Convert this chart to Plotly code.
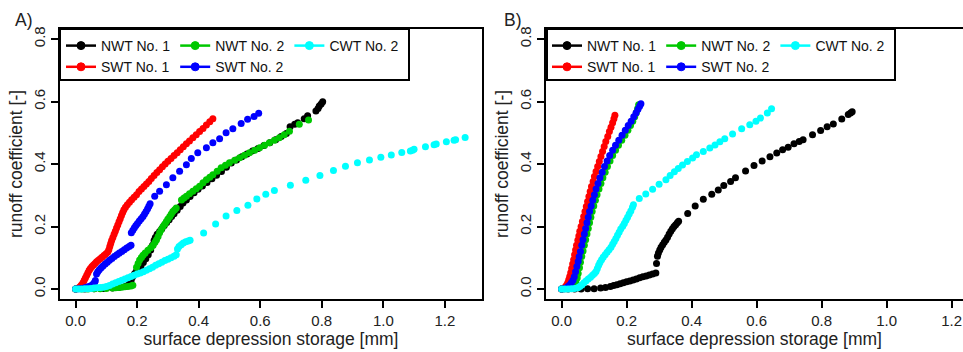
import plotly.graph_objects as go

# ---------------- data ----------------
series_names = ["NWT No. 1", "SWT No. 1", "NWT No. 2", "SWT No. 2", "CWT No. 2"]
series_colors = ["#000000", "#FF0000", "#00C800", "#0000FF", "#00FFFF"]
series_groups = ["c1", "c1", "c2", "c2", "c3"]

x_ticks = [0.0, 0.2, 0.4, 0.6, 0.8, 1.0, 1.2]
y_ticks = [0.0, 0.2, 0.4, 0.6, 0.8]

# ---- Panel A ----
a_nwt1_x = [0.0, 0.03, 0.06, 0.09, 0.12, 0.14, 0.16, 0.17, 0.176, 0.181, 0.186, 0.192, 0.198, 0.205, 0.212,
            0.220, 0.228, 0.236, 0.244, 0.250, 0.255, 0.259, 0.265, 0.273, 0.280, 0.288, 0.296, 0.304, 0.312,
            0.320, 0.330, 0.340, 0.349, 0.360, 0.372, 0.385, 0.398, 0.412, 0.427, 0.443, 0.458, 0.474, 0.490,
            0.506, 0.523, 0.540, 0.557, 0.575, 0.593, 0.612, 0.631, 0.650, 0.668, 0.685, 0.697, 0.712, 0.722,
            0.743, 0.754, 0.781, 0.788, 0.792, 0.798, 0.803]
a_nwt1_y = [0.0, 0.0, 0.001, 0.002, 0.003, 0.005, 0.008, 0.012, 0.020, 0.030, 0.040, 0.050, 0.058, 0.066, 0.072,
            0.085, 0.097, 0.110, 0.125, 0.140, 0.155, 0.165, 0.175, 0.184, 0.193, 0.203, 0.213, 0.222, 0.232,
            0.241, 0.252, 0.264, 0.275, 0.285, 0.296, 0.308, 0.319, 0.330, 0.341, 0.353, 0.364, 0.376, 0.390,
            0.403, 0.413, 0.423, 0.432, 0.442, 0.450, 0.459, 0.468, 0.478, 0.488, 0.498, 0.519, 0.527, 0.532,
            0.545, 0.554, 0.570, 0.578, 0.586, 0.592, 0.599]

a_swt1_x = [0.000, 0.005, 0.010, 0.015, 0.019, 0.024, 0.028, 0.032, 0.036, 0.040, 0.044, 0.048, 0.053, 0.058,
            0.063, 0.068, 0.074, 0.080, 0.086, 0.092, 0.098, 0.104, 0.108, 0.111, 0.114, 0.117, 0.121, 0.125,
            0.129, 0.133, 0.137, 0.141, 0.145, 0.149, 0.153, 0.157, 0.162, 0.168, 0.175, 0.182, 0.190, 0.198,
            0.206, 0.214, 0.222, 0.230, 0.238, 0.246, 0.255, 0.264, 0.273, 0.282, 0.291, 0.300, 0.310, 0.320,
            0.330, 0.340, 0.350, 0.360, 0.370, 0.381, 0.392, 0.403, 0.414, 0.425, 0.436, 0.446]
a_swt1_y = [0.000, 0.002, 0.004, 0.008, 0.013, 0.020, 0.028, 0.036, 0.044, 0.052, 0.060, 0.066, 0.072, 0.077,
            0.082, 0.087, 0.092, 0.097, 0.102, 0.107, 0.112, 0.118, 0.126, 0.136, 0.146, 0.155, 0.165, 0.175,
            0.185, 0.195, 0.205, 0.215, 0.225, 0.235, 0.245, 0.254, 0.262, 0.270, 0.278, 0.286, 0.294, 0.302,
            0.312, 0.320, 0.328, 0.336, 0.344, 0.354, 0.363, 0.373, 0.382, 0.391, 0.400, 0.409, 0.418, 0.427,
            0.436, 0.446, 0.455, 0.465, 0.474, 0.484, 0.494, 0.504, 0.514, 0.525, 0.535, 0.545]

a_nwt2_x = [0.0, 0.02, 0.04, 0.06, 0.08, 0.10, 0.12, 0.13, 0.14, 0.15, 0.16, 0.17, 0.18, 0.186,
            0.198, 0.203, 0.208, 0.214, 0.219, 0.226, 0.235, 0.244, 0.252, 0.258, 0.263, 0.268, 0.273, 0.278,
            0.284, 0.290, 0.295, 0.300, 0.306, 0.311, 0.316, 0.322, 0.327,
            0.344, 0.352, 0.360, 0.370, 0.381, 0.392, 0.403, 0.414, 0.425, 0.436, 0.446, 0.460, 0.473, 0.487,
            0.500, 0.517, 0.533, 0.549, 0.565, 0.582, 0.598, 0.614, 0.630, 0.646, 0.662, 0.678, 0.695, 0.727, 0.757]
a_nwt2_y = [0.0, 0.0, 0.0, 0.001, 0.001, 0.002, 0.003, 0.004, 0.005, 0.006, 0.007, 0.008, 0.010, 0.012,
            0.070, 0.082, 0.093, 0.101, 0.108, 0.115, 0.124, 0.132, 0.140, 0.150, 0.158, 0.168, 0.180, 0.190,
            0.200, 0.208, 0.216, 0.224, 0.232, 0.240, 0.248, 0.254, 0.259,
            0.285, 0.291, 0.297, 0.305, 0.313, 0.321, 0.329, 0.340, 0.350, 0.358, 0.366, 0.377, 0.388, 0.396,
            0.404, 0.412, 0.420, 0.428, 0.436, 0.444, 0.452, 0.460, 0.468, 0.476, 0.484, 0.494, 0.505, 0.527, 0.541]

a_swt2_x = [0.0, 0.01, 0.02, 0.03, 0.04, 0.048, 0.054, 0.058, 0.062, 0.064,
            0.068, 0.072, 0.077, 0.083, 0.089, 0.096, 0.103, 0.110, 0.118, 0.126, 0.134, 0.142, 0.150, 0.158,
            0.166, 0.174, 0.180,
            0.181, 0.186, 0.191, 0.196, 0.201, 0.207, 0.213, 0.219, 0.224, 0.229, 0.234, 0.238, 0.242,
            0.257, 0.273, 0.295, 0.316, 0.338, 0.360, 0.376, 0.397, 0.425, 0.446, 0.468, 0.489, 0.511,
            0.538, 0.559, 0.580, 0.595]
a_swt2_y = [0.0, 0.001, 0.002, 0.004, 0.007, 0.010, 0.013, 0.017, 0.022, 0.027,
            0.048, 0.055, 0.062, 0.068, 0.074, 0.080, 0.086, 0.092, 0.098, 0.104, 0.110, 0.115, 0.120, 0.126,
            0.131, 0.136, 0.140,
            0.180, 0.188, 0.196, 0.203, 0.210, 0.218, 0.225, 0.232, 0.240, 0.248, 0.257, 0.265, 0.273,
            0.297, 0.313, 0.334, 0.356, 0.377, 0.398, 0.418, 0.436, 0.452, 0.468, 0.481, 0.500, 0.513,
            0.530, 0.543, 0.552, 0.562]

a_cwt2_x = [0.0, 0.01, 0.02, 0.03, 0.04, 0.05, 0.06, 0.07, 0.08, 0.09, 0.10, 0.11, 0.12, 0.13, 0.14, 0.15,
            0.16, 0.17, 0.18, 0.19, 0.20, 0.21, 0.22, 0.23, 0.24, 0.25, 0.26, 0.27, 0.28, 0.29, 0.30, 0.31,
            0.32, 0.327, 0.331, 0.336, 0.343, 0.350, 0.358, 0.366, 0.372,
            0.416, 0.455, 0.489, 0.524, 0.560, 0.589, 0.618, 0.646, 0.698, 0.748, 0.794, 0.838, 0.877, 0.916,
            0.955, 0.992, 1.026, 1.060, 1.088, 1.095, 1.100, 1.137, 1.165, 1.172, 1.205, 1.230, 1.235, 1.266]
a_cwt2_y = [0.0, 0.0, 0.0, 0.001, 0.001, 0.002, 0.003, 0.004, 0.005, 0.006, 0.008, 0.011, 0.016, 0.020,
            0.024, 0.028, 0.032, 0.036, 0.040, 0.044, 0.048, 0.051, 0.055, 0.060, 0.065, 0.070, 0.076, 0.081,
            0.086, 0.091, 0.095, 0.100, 0.105, 0.110, 0.128, 0.136, 0.142, 0.147, 0.151, 0.154, 0.156,
            0.179, 0.208, 0.234, 0.251, 0.268, 0.288, 0.303, 0.315, 0.332, 0.348, 0.363, 0.379, 0.393, 0.404,
            0.413, 0.422, 0.429, 0.437, 0.442, 0.444, 0.447, 0.455, 0.462, 0.464, 0.471, 0.476, 0.478, 0.485]

# ---- Panel B ----
b_nwt1_x = [0.0, 0.02, 0.04, 0.06, 0.08, 0.10, 0.12, 0.135, 0.15, 0.16, 0.17, 0.18, 0.19, 0.20, 0.21, 0.22,
            0.23, 0.24, 0.25, 0.26, 0.27, 0.28, 0.29, 0.292, 0.295, 0.298, 0.302, 0.306, 0.311, 0.316, 0.321,
            0.326, 0.331, 0.336, 0.341, 0.346, 0.351, 0.356, 0.360, 0.388, 0.411, 0.436, 0.462, 0.482, 0.499,
            0.520, 0.535, 0.566, 0.592, 0.617, 0.641, 0.662, 0.680, 0.697, 0.715, 0.731, 0.743, 0.772, 0.797,
            0.817, 0.836, 0.862, 0.882, 0.889, 0.894]
b_nwt1_y = [0.0, 0.0, 0.0, 0.0, 0.001, 0.001, 0.003, 0.005, 0.008, 0.011, 0.014, 0.017, 0.020, 0.023, 0.026,
            0.029, 0.032, 0.036, 0.039, 0.042, 0.045, 0.048, 0.051, 0.082, 0.105, 0.115, 0.125, 0.134, 0.142,
            0.150, 0.157, 0.166, 0.176, 0.185, 0.193, 0.200, 0.206, 0.212, 0.217, 0.242, 0.266, 0.287, 0.303,
            0.317, 0.331, 0.344, 0.356, 0.378, 0.395, 0.410, 0.423, 0.435, 0.446, 0.454, 0.465, 0.472, 0.478,
            0.494, 0.507, 0.519, 0.528, 0.544, 0.558, 0.563, 0.567]

b_swt1_x = [0.0, 0.005, 0.010, 0.015, 0.019, 0.022, 0.025, 0.028, 0.031, 0.034, 0.037, 0.040, 0.043, 0.046,
            0.050, 0.053, 0.056, 0.060, 0.064, 0.068, 0.072, 0.076, 0.080, 0.084, 0.088, 0.092, 0.097, 0.101,
            0.106, 0.111, 0.116, 0.121, 0.126, 0.131, 0.136, 0.142, 0.147, 0.152, 0.157, 0.161, 0.164]
b_swt1_y = [0.0, 0.002, 0.006, 0.012, 0.020, 0.030, 0.040, 0.052, 0.066, 0.080, 0.094, 0.110, 0.125, 0.140,
            0.156, 0.170, 0.185, 0.200, 0.216, 0.232, 0.248, 0.264, 0.280, 0.296, 0.312, 0.328, 0.344, 0.360,
            0.376, 0.392, 0.408, 0.424, 0.440, 0.456, 0.472, 0.488, 0.504, 0.518, 0.532, 0.545, 0.556]

b_nwt2_x = [0.0, 0.010, 0.020, 0.030, 0.038, 0.044, 0.048, 0.051, 0.055, 0.058, 0.062, 0.066, 0.070, 0.074,
            0.078, 0.082, 0.086, 0.090, 0.094, 0.099, 0.104, 0.109, 0.115, 0.121, 0.127, 0.134, 0.141, 0.149,
            0.157, 0.166, 0.175, 0.185, 0.195, 0.204, 0.212, 0.219, 0.225, 0.230, 0.234, 0.237]
b_nwt2_y = [0.0, 0.001, 0.003, 0.007, 0.013, 0.022, 0.035, 0.050, 0.068, 0.086, 0.104, 0.122, 0.140, 0.158,
            0.176, 0.194, 0.212, 0.230, 0.248, 0.266, 0.284, 0.302, 0.320, 0.338, 0.356, 0.374, 0.392, 0.410,
            0.427, 0.444, 0.460, 0.476, 0.492, 0.508, 0.523, 0.537, 0.551, 0.565, 0.578, 0.590]

b_swt2_x = [0.0, 0.008, 0.015, 0.020, 0.025, 0.030, 0.035, 0.039, 0.043, 0.047, 0.051, 0.054, 0.058, 0.062,
            0.066, 0.070, 0.074, 0.078, 0.082, 0.086, 0.091, 0.096, 0.101, 0.106, 0.112, 0.118, 0.125, 0.132,
            0.140, 0.148, 0.157, 0.166, 0.176, 0.186, 0.196, 0.205, 0.214, 0.222, 0.229, 0.235, 0.240, 0.244]
b_swt2_y = [0.0, 0.001, 0.004, 0.008, 0.013, 0.020, 0.028, 0.039, 0.055, 0.072, 0.088, 0.103, 0.120, 0.140,
            0.158, 0.176, 0.194, 0.212, 0.230, 0.248, 0.266, 0.284, 0.302, 0.320, 0.338, 0.356, 0.374, 0.392,
            0.410, 0.427, 0.444, 0.460, 0.476, 0.492, 0.508, 0.523, 0.537, 0.551, 0.563, 0.575, 0.585, 0.593]

b_cwt2_x = [0.0, 0.01, 0.02, 0.03, 0.04, 0.05, 0.056, 0.062, 0.068, 0.075, 0.082, 0.089, 0.095, 0.101,
            0.106, 0.110, 0.114, 0.118, 0.123, 0.128, 0.134, 0.140, 0.146, 0.152, 0.157, 0.162, 0.167, 0.172,
            0.177, 0.182, 0.188, 0.193, 0.198, 0.203, 0.208, 0.213, 0.218, 0.221, 0.239, 0.259, 0.280, 0.300,
            0.321, 0.334, 0.347, 0.359, 0.372, 0.387, 0.403, 0.415, 0.436, 0.456, 0.472, 0.487, 0.502, 0.526,
            0.554, 0.579, 0.598, 0.612, 0.633, 0.646]
b_cwt2_y = [0.0, 0.0, 0.0, 0.001, 0.002, 0.004, 0.008, 0.013, 0.019, 0.026, 0.032, 0.038, 0.044, 0.050,
            0.056, 0.066, 0.076, 0.085, 0.094, 0.102, 0.110, 0.118, 0.126, 0.134, 0.143, 0.152, 0.162, 0.172,
            0.182, 0.192, 0.201, 0.210, 0.220, 0.230, 0.240, 0.250, 0.262, 0.270, 0.290, 0.304, 0.319, 0.335,
            0.350, 0.363, 0.375, 0.386, 0.397, 0.408, 0.419, 0.430, 0.440, 0.451, 0.461, 0.471, 0.481, 0.496,
            0.513, 0.526, 0.537, 0.547, 0.563, 0.577]

panel_a = [(a_nwt1_x, a_nwt1_y), (a_swt1_x, a_swt1_y), (a_nwt2_x, a_nwt2_y), (a_swt2_x, a_swt2_y), (a_cwt2_x, a_cwt2_y)]
panel_b = [(b_nwt1_x, b_nwt1_y), (b_swt1_x, b_swt1_y), (b_nwt2_x, b_nwt2_y), (b_swt2_x, b_swt2_y), (b_cwt2_x, b_cwt2_y)]

# ---------------- figure ----------------
W, H = 963, 352
FONT = "Liberation Sans, Arial, Helvetica, sans-serif"

def px(v):
    return v / W

def py(v):
    return 1 - v / H

fig = go.Figure()

panels = [("x", "y", "legend", panel_a), ("x2", "y2", "legend2", panel_b)]
for xa, ya, leg, data in panels:
    for (xs, ys), name, col in zip(data, series_names, series_colors):
        fig.add_trace(go.Scatter(x=xs, y=ys, mode="markers", xaxis=xa, yaxis=ya,
                                 marker=dict(size=7, color=col, line=dict(width=0)),
                                 showlegend=False, hoverinfo="x+y", name=name))
    for name, col, grp in zip(series_names, series_colors, series_groups):
        fig.add_trace(go.Scatter(x=[None], y=[None], mode="lines+markers", xaxis=xa, yaxis=ya,
                                 name=name, legendgroup=grp, legend=leg, showlegend=True,
                                 line=dict(color=col, width=2.5),
                                 marker=dict(size=8, color=col, line=dict(width=1, color=col))))

axis_common = dict(showline=True, linecolor="black", linewidth=2, ticks="outside", ticklen=7,
                   tickwidth=2, tickcolor="black", showgrid=False, zeroline=False,
                   tickfont=dict(family=FONT, size=15, color="#222222"), automargin=False,
                   tickformat=".1f")
ydom = [py(299), py(29)]
title_font = dict(size=17.5, family=FONT, color="#222222")

fig.update_layout(
    width=W, height=H, margin=dict(l=0, r=0, t=0, b=0),
    paper_bgcolor="white", plot_bgcolor="white",
    font=dict(family=FONT, color="black"),
    xaxis=dict(axis_common, domain=[px(60), px(482)], range=[-0.0508, 1.3208], tickvals=x_ticks,
               mirror=True, anchor="y",
               title=dict(text="surface depression storage [mm]", font=title_font, standoff=4)),
    yaxis=dict(axis_common, domain=ydom, range=[-0.032, 0.832], tickvals=y_ticks, tickangle=-90,
               mirror=True, anchor="x",
               title=dict(text="runoff coefficient [-]", font=title_font, standoff=4)),
    xaxis2=dict(axis_common, domain=[px(546), 1.0], range=[-0.048, 1.235], tickvals=x_ticks,
                mirror=True, anchor="y2",
                title=dict(text="surface depression storage [mm]", font=title_font, standoff=4)),
    yaxis2=dict(axis_common, domain=ydom, range=[-0.032, 0.832], tickvals=y_ticks, tickangle=-90,
                mirror=False, anchor="x2",
                title=dict(text="runoff coefficient [-]", font=title_font, standoff=4)),
    legend=dict(x=px(61), y=py(30), xanchor="left", yanchor="top", orientation="h",
                traceorder="grouped", bgcolor="rgba(0,0,0,0)", borderwidth=0,
                font=dict(family=FONT, size=14, color="#111111"), tracegroupgap=0),
    legend2=dict(x=px(547), y=py(30), xanchor="left", yanchor="top", orientation="h",
                 traceorder="grouped", bgcolor="rgba(0,0,0,0)", borderwidth=0,
                 font=dict(family=FONT, size=14, color="#111111"), tracegroupgap=0),
)

# legend frames
for x0, x1 in [(60, 409), (547, 895)]:
    fig.add_shape(type="rect", xref="paper", yref="paper", x0=px(x0), x1=px(x1), y0=py(80), y1=py(29),
                  line=dict(color="black", width=2), fillcolor="rgba(0,0,0,0)", layer="above")

# panel labels
for lbl, xpos in [("A)", 13), ("B)", 502)]:
    fig.add_annotation(text=lbl, xref="paper", yref="paper", x=px(xpos), y=py(20), xanchor="left",
                       yanchor="middle", showarrow=False, font=dict(family=FONT, size=17.5, color="#222222"))

fig.write_html("out.html")
